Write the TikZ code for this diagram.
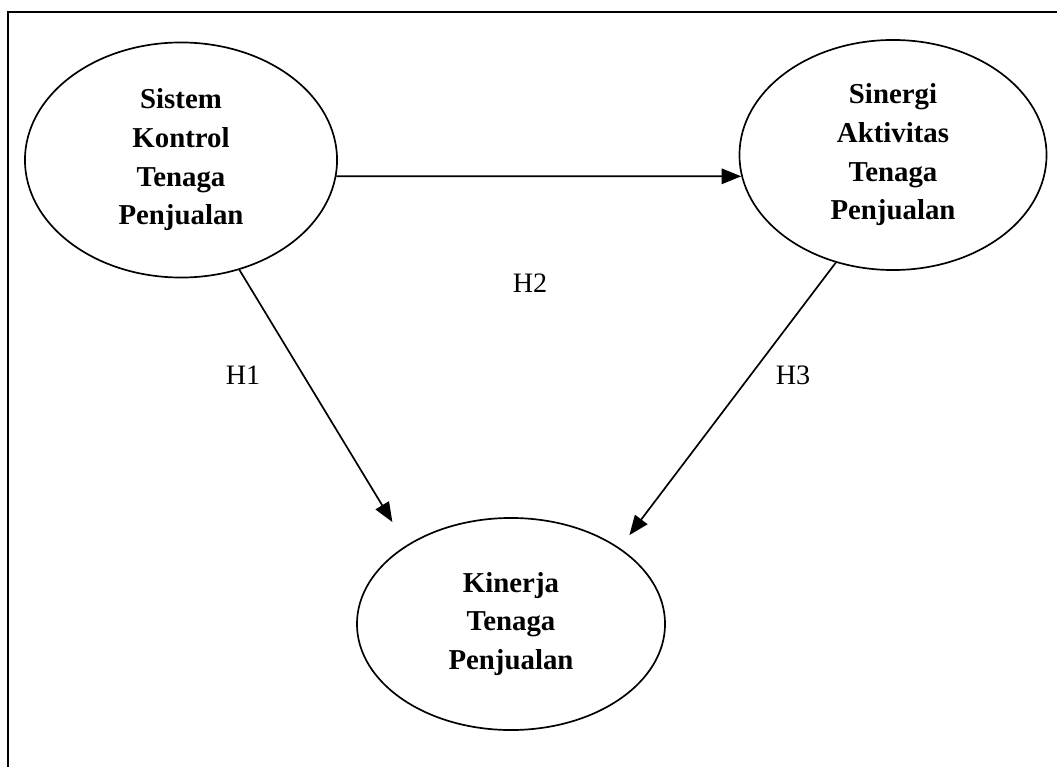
\documentclass[tikz,border=0pt]{standalone}
\usepackage{fontspec}
\setmainfont{Liberation Serif}
\usetikzlibrary{shapes.geometric,arrows.meta}
\begin{document}
\begin{tikzpicture}[x=0.025cm,y=-0.025cm,
    var/.style={draw,ellipse,line width=1.2pt,align=center,inner sep=0pt,
        font=\fontsize{20.5}{27.5}\selectfont\bfseries},
    hyp/.style={line width=1.2pt,-{Triangle[length=14pt,width=11pt]}},
    lbl/.style={font=\fontsize{20}{24}\selectfont}]
\useasboundingbox (0,0) rectangle (1057,767);
% frame
\draw[line width=1.3pt] (8,767)--(8,12)--(1057,12);
% variables
\node[var,minimum width=7.8cm,minimum height=5.875cm] (kontrol) at (181,160)
    {Sistem\\Kontrol\\Tenaga\\Penjualan};
\node[var,minimum width=7.675cm,minimum height=5.75cm] (sinergi) at (893,155)
    {Sinergi\\Aktivitas\\Tenaga\\Penjualan};
\node[var,minimum width=7.7cm,minimum height=5.3cm] (kinerja) at (511,624)
    {Kinerja\\Tenaga\\Penjualan};
% hypotheses
\draw[hyp] (kontrol.-6.3) -- (sinergi.188.3);
\draw[hyp,shorten >=0.675cm] (kontrol.298) -- (kinerja.143);
\draw[hyp,shorten >=0.4cm] (sinergi.242.6) -- (kinerja.35.7);
\node[lbl] (h1) at (243,375) {H1};
\node[lbl] (h2) at (530,283) {H2};
\node[lbl] (h3) at (793,375) {H3};
\end{tikzpicture}
\end{document}
